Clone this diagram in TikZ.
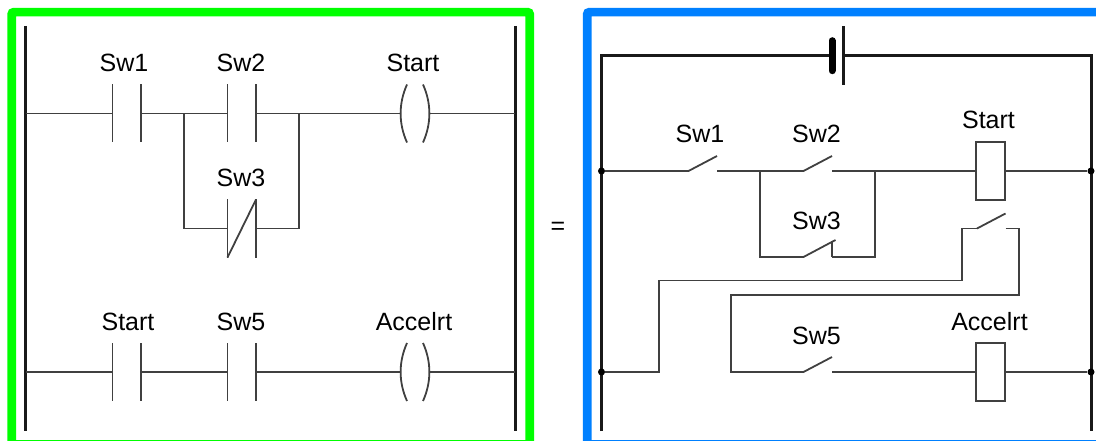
\documentclass[tikz,border=0pt]{standalone}
\usepackage{fontspec}
\setmainfont{Liberation Sans}
\usetikzlibrary{calc}
\definecolor{framegreen}{HTML}{00FF00}
\definecolor{frameblue}{HTML}{0080FF}
\tikzset{
    frame/.style={line width=8.6pt,rounded corners=2pt},
    rail/.style={line width=3pt,color=black!90},
    wire/.style={line width=1.8pt,color=black!75},
    lbl/.style={inner sep=0pt,font=\fontsize{25}{29}\selectfont},
    relay/.style={draw,wire,minimum width=29pt,minimum height=58pt,inner sep=0pt},
    tie/.style={circle,fill=black,inner sep=0pt,minimum size=7pt},
}
\begin{document}
\begin{tikzpicture}[x=1pt,y=-1pt]
    \useasboundingbox (0,0) rectangle (1096,441);
    \draw[frame,framegreen] (11.7,12.2) rectangle (529.7,444.3);
    \draw[frame,frameblue] (587.2,12.2) rectangle (1110,444.3);
    % ladder side
    \coordinate (railLa) at (25.7,26);
    \coordinate (railLb) at (25.7,431);
    \coordinate (railRa) at (515,26);
    \coordinate (railRb) at (515,431);
    \draw[rail] (railLa) -- (railLb);
    \draw[rail] (railRa) -- (railRb);
    \foreach \name/\x/\y in {one/112.5/113.5,two/227.5/113.5,three/227.5/228.5,four/112.5/372,five/227.5/372}{
        \coordinate (\name l) at (\x,\y);
        \coordinate (\name r) at ($(\x,\y)+(28.5,0)$);
        \draw[wire] ($(\name l)+(0,-29)$) -- ($(\name l)+(0,29)$);
        \draw[wire] ($(\name r)+(0,-29)$) -- ($(\name r)+(0,29)$);
    }
    \draw[wire] ($(threel)+(0,29)$) -- ($(threer)+(0,-29)$);
    \foreach \name/\x/\y in {coilA/400.5/113.5,coilB/400.5/372}{
        \coordinate (\name l) at (\x,\y);
        \coordinate (\name r) at ($(\x,\y)+(29,0)$);
        \draw[wire] ($(\name l)+(6.5,-29)$) .. controls ($(\name l)+(-2,-10)$) and ($(\name l)+(-2,10)$) .. ($(\name l)+(6.5,29)$);
        \draw[wire] ($(\name r)+(-6.5,-29)$) .. controls ($(\name r)+(2,-10)$) and ($(\name r)+(2,10)$) .. ($(\name r)+(-6.5,29)$);
    }
    \coordinate (rungA) at (25.7,113.5);
    \coordinate (rungAr) at (515,113.5);
    \coordinate (rungB) at (25.7,372);
    \coordinate (rungBr) at (515,372);
    \coordinate (brL) at (184,113.5);
    \coordinate (brR) at (299,113.5);
    \draw[wire] (rungA) -- (onel);
    \draw[wire] (oner) -- (twol);
    \draw[wire] (twor) -- (coilAl);
    \draw[wire] (coilAr) -- (rungAr);
    \draw[wire] (brL) |- (threel);
    \draw[wire] (brR) |- (threer);
    \draw[wire] (rungB) -- (fourl);
    \draw[wire] (fourr) -- (fivel);
    \draw[wire] (fiver) -- (coilBl);
    \draw[wire] (coilBr) -- (rungBr);
    \node[lbl] (lblA) at (124,62.5) {Sw1};
    \node[lbl] (lblB) at (241,62.5) {Sw2};
    \node[lbl] (lblC) at (413,62.5) {Start};
    \node[lbl] (lblD) at (241,177.5) {Sw3};
    \node[lbl] (lblE) at (128,321.5) {Start};
    \node[lbl] (lblF) at (241,321.5) {Sw5};
    \node[lbl] (lblG) at (414,321.5) {Accelrt};
    \node[lbl] (equal) at (558,228) {=};
    % relay side
    \coordinate (topL) at (601.5,55.7);
    \coordinate (topR) at (1091,55.7);
    \coordinate (botL) at (601.5,431);
    \coordinate (botR) at (1091,431);
    \coordinate (batA) at (832,55.7);
    \coordinate (batB) at (843.5,55.7);
    \draw[rail] (botL) -- (topL) -- (batA);
    \draw[rail] (batB) -- (topR) -- (botR);
    \draw[line width=7pt,line cap=round,color=black] ($(batA)+(0,-15)$) -- ($(batA)+(0,15)$);
    \draw[rail] ($(batB)+(0,-29.5)$) -- ($(batB)+(0,29.5)$);
    \node[tie] (tieA) at (601.5,171) {};
    \node[tie] (tieB) at (1091,171) {};
    \node[tie] (tieC) at (601.5,372) {};
    \node[tie] (tieD) at (1091,372) {};
    \node[relay] (relayA) at (990.5,171) {};
    \node[relay] (relayB) at (990.5,372) {};
    \foreach \name/\x/\y in {swa/688.5/171,swb/803.5/171,swe/803.5/372,swf/977/228.5}{
        \coordinate (\name l) at (\x,\y);
        \coordinate (\name r) at ($(\x,\y)+(28.5,0)$);
        \draw[wire] (\name l) -- ($(\name r)+(0,-15)$);
    }
    \coordinate (swcl) at (803.5,257);
    \coordinate (swcr) at (832,257);
    \draw[wire] (swcl) -- ($(swcr)+(3.5,-17)$);
    \draw[wire] (swcr) -- ($(swcr)+(0,-15)$);
    \coordinate (brA) at (760,171);
    \coordinate (brB) at (875,171);
    \draw[wire] (tieA) -- (swal);
    \draw[wire] (swar) -- (swbl);
    \draw[wire] (swbr) -- (relayA);
    \draw[wire] (relayA) -- (tieB);
    \draw[wire] (brA) |- (swcl);
    \draw[wire] (brB) |- (swcr);
    \draw[wire] (tieC) -| (659,280.5) -| (962,228.5) -- (swfl);
    \draw[wire] (swfr) -| (1019,294.7) -| (731,372) -- (swel);
    \draw[wire] (swer) -- (relayB);
    \draw[wire] (relayB) -- (tieD);
    \node[lbl] (lblH) at (700,133.5) {Sw1};
    \node[lbl] (lblI) at (816.5,133.5) {Sw2};
    \node[lbl] (lblJ) at (988.5,119.5) {Start};
    \node[lbl] (lblK) at (816.5,220.5) {Sw3};
    \node[lbl] (lblL) at (816.5,335.5) {Sw5};
    \node[lbl] (lblM) at (989.5,321.5) {Accelrt};
\end{tikzpicture}
\end{document}
